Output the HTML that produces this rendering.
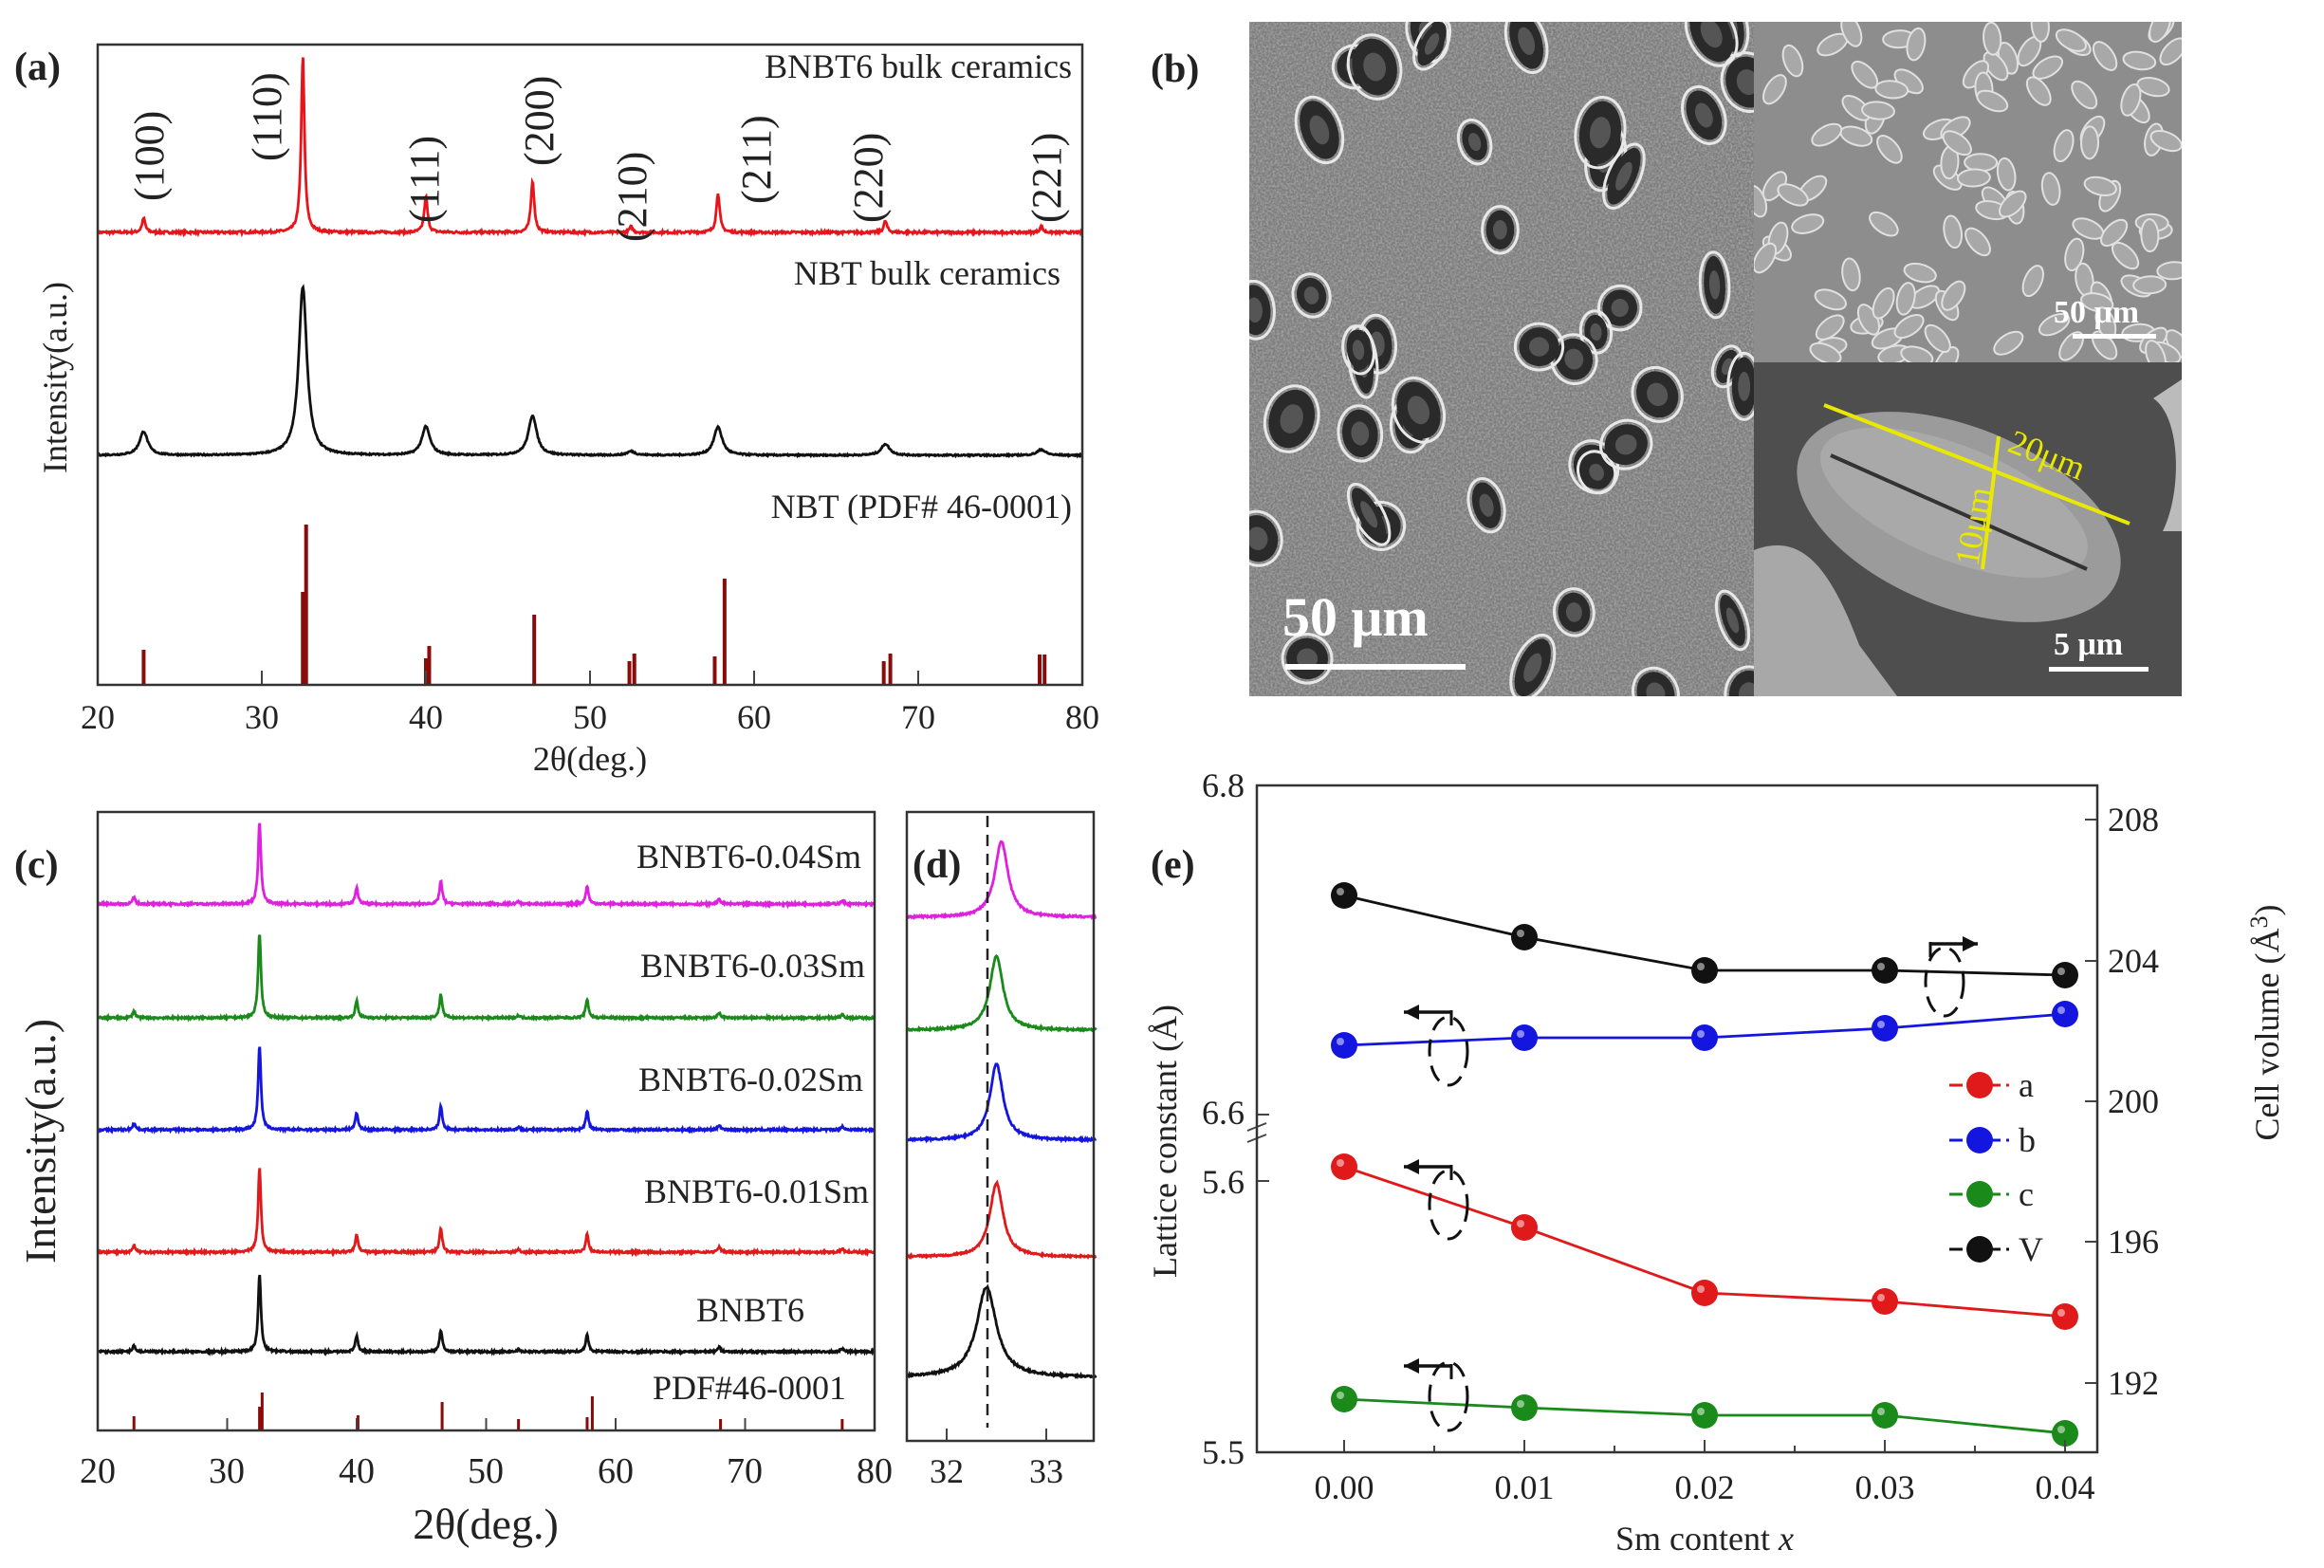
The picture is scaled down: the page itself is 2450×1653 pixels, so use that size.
<!DOCTYPE html>
<html><head><meta charset="utf-8"><style>
html,body{margin:0;padding:0;background:#fff}
svg{display:block}
text{font-family:"Liberation Serif",serif;fill:#222}
</style></head><body>
<svg id="s" width="2450" height="1653" viewBox="0 0 2450 1653" xmlns="http://www.w3.org/2000/svg">
<defs>
<filter id="noise" x="0" y="0" width="100%" height="100%">
<feTurbulence type="fractalNoise" baseFrequency="0.45" numOctaves="2" seed="3"/>
<feColorMatrix type="matrix" values="0 0 0 0 0.5  0 0 0 0 0.5  0 0 0 0 0.5  0 0 0 1.4 -0.45"/>
</filter>
<clipPath id="cm"><rect x="1317" y="23" width="532" height="711"/></clipPath>
<clipPath id="ct"><rect x="1849" y="23" width="451" height="359"/></clipPath>
<clipPath id="cb"><rect x="1849" y="382" width="451" height="352"/></clipPath>
</defs>

<!-- Panel (a) -->
<g id="pa"></g>
<rect x="103" y="47" width="1038" height="675" fill="none" stroke="#333" stroke-width="2.5"/>
<text x="15" y="84" font-size="42" font-weight="bold">(a)</text>
<g font-size="36" text-anchor="end">
<text x="1130" y="82">BNBT6 bulk ceramics</text>
<text x="1118" y="300">NBT bulk ceramics</text>
<text x="1130" y="546">NBT (PDF# 46-0001)</text>
</g>
<g font-size="44">
<text transform="translate(172,212) rotate(-90)">(100)</text>
<text transform="translate(296,170) rotate(-90)">(110)</text>
<text transform="translate(462,235) rotate(-90)">(111)</text>
<text transform="translate(583,175) rotate(-90)">(200)</text>
<text transform="translate(681,255) rotate(-90)">(210)</text>
<text transform="translate(812,215) rotate(-90)">(211)</text>
<text transform="translate(930,235) rotate(-90)">(220)</text>
<text transform="translate(1118,235) rotate(-90)">(221)</text>
</g>
<g font-size="36" text-anchor="middle">
<text x="103" y="768">20</text><text x="276" y="768">30</text><text x="449" y="768">40</text><text x="622" y="768">50</text><text x="795" y="768">60</text><text x="968" y="768">70</text><text x="1141" y="768">80</text>
<text x="622" y="812">2θ(deg.)</text>
<text transform="translate(70,398) rotate(-90)">Intensity(a.u.)</text>
</g>

<!-- Panel (b) SEM -->
<g clip-path="url(#cm)">
<rect x="1317" y="23" width="532" height="711" fill="#7c7c7c"/>
<rect x="1317" y="23" width="532" height="711" filter="url(#noise)" opacity="0.9"/>
<g id="pores"></g>
</g>
<g clip-path="url(#ct)">
<rect x="1849" y="23" width="451" height="359" fill="#8d8d8d"/>
<g id="grains"></g>
</g>
<g clip-path="url(#cb)">
<rect x="1849" y="382" width="451" height="352" fill="#4e4e4e"/>
<path d="M1849 580 C1900 560 1930 600 1960 680 L2000 734 L1849 734Z" fill="#a8a8a8"/>
<path d="M2270 420 C2300 440 2300 520 2280 560 L2300 560 L2300 400Z" fill="#bbb"/>
<ellipse cx="2065" cy="545" rx="180" ry="95" transform="rotate(22 2065 545)" fill="#9b9b9b"/>
<ellipse cx="2060" cy="530" rx="150" ry="60" transform="rotate(22 2060 530)" fill="#a9a9a9"/>
<path d="M1930 480 L2200 600" stroke="#333" stroke-width="4"/>
<line x1="1923" y1="427" x2="2245" y2="552" stroke="#e8e800" stroke-width="4"/>
<line x1="2107" y1="460" x2="2090" y2="600" stroke="#e8e800" stroke-width="4"/>
<text transform="translate(2115,475) rotate(22)" font-size="36" style="fill:#e8e800">20μm</text>
<text transform="translate(2085,598) rotate(-80)" font-size="36" style="fill:#e8e800">10μm</text>
<text x="2165" y="690" font-size="34" font-weight="bold" style="fill:#fff">5 μm</text>
<rect x="2160" y="703" width="105" height="5" fill="#fff"/>
</g>
<text x="2165" y="340" font-size="34" font-weight="bold" style="fill:#fff">50 μm</text>
<rect x="2185" y="352" width="88" height="5" fill="#fff"/>
<text x="1352" y="670" font-size="58" font-weight="bold" style="fill:#fff">50 μm</text>
<rect x="1355" y="700" width="190" height="6" fill="#fff"/>
<text x="1213" y="86" font-size="42" font-weight="bold">(b)</text>

<!-- Panel (c) -->
<g id="pc"></g>
<rect x="103" y="856" width="819" height="652" fill="none" stroke="#333" stroke-width="2.5"/>
<text x="15" y="925" font-size="42" font-weight="bold">(c)</text>
<g font-size="36" text-anchor="end">
<text x="908" y="915">BNBT6-0.04Sm</text>
<text x="912" y="1030">BNBT6-0.03Sm</text>
<text x="910" y="1150">BNBT6-0.02Sm</text>
<text x="916" y="1268">BNBT6-0.01Sm</text>
<text x="848" y="1393">BNBT6</text>
<text x="892" y="1475">PDF#46-0001</text>
</g>
<g font-size="38" text-anchor="middle">
<text x="103" y="1563">20</text><text x="239" y="1563">30</text><text x="376" y="1563">40</text><text x="512" y="1563">50</text><text x="649" y="1563">60</text><text x="785" y="1563">70</text><text x="922" y="1563">80</text>
<text x="512" y="1622" font-size="46">2θ(deg.)</text>
<text transform="translate(58,1203) rotate(-90)" font-size="46">Intensity(a.u.)</text>
</g>

<!-- Panel (d) -->
<g id="pd"></g>
<line x1="1041" y1="860" x2="1041" y2="1505" stroke="#222" stroke-width="2.5" stroke-dasharray="12,8"/>
<rect x="956" y="856" width="197" height="663" fill="none" stroke="#333" stroke-width="2.5"/>
<text x="962" y="925" font-size="42" font-weight="bold">(d)</text>
<g font-size="36" text-anchor="middle"><text x="998" y="1563">32</text><text x="1103" y="1563">33</text></g>

<!-- Panel (e) -->
<g id="pe"></g>
<rect x="1325" y="828" width="886" height="703" fill="none" stroke="#333" stroke-width="2.5"/>
<text x="1213" y="925" font-size="42" font-weight="bold">(e)</text>
<g font-size="36" text-anchor="end">
<text x="1312" y="840">6.8</text><text x="1312" y="1185">6.6</text><text x="1312" y="1258">5.6</text><text x="1312" y="1543">5.5</text>
</g>
<g font-size="36">
<text x="2222" y="876">208</text><text x="2222" y="1025">204</text><text x="2222" y="1173">200</text><text x="2222" y="1321">196</text><text x="2222" y="1470">192</text>
</g>
<g font-size="36" text-anchor="middle">
<text x="1417" y="1580">0.00</text><text x="1607" y="1580">0.01</text><text x="1797" y="1580">0.02</text><text x="1987" y="1580">0.03</text><text x="2177" y="1580">0.04</text>
<text x="1797" y="1634">Sm content <tspan font-style="italic">x</tspan></text>
<text transform="translate(1240,1203) rotate(-90)">Lattice constant (Å)</text>
<text transform="translate(2402,1078) rotate(-90)">Cell volume (Å<tspan font-size="26" dy="-12">3</tspan><tspan dy="12">)</tspan></text>
</g>
<g font-size="36">
<text x="2128" y="1156">a</text><text x="2128" y="1214">b</text><text x="2128" y="1271">c</text><text x="2128" y="1329">V</text>
</g>
</svg>
<script>
const NS="http://www.w3.org/2000/svg";
function el(p,t,a){const e=document.createElementNS(NS,t);for(const k in a)e.setAttribute(k,a[k]);document.getElementById(p).appendChild(e);return e;}
let seed=7;function rnd(){seed=(seed*16807)%2147483647;return seed/2147483647;}
const pk=[22.8,32.5,40.0,46.5,52.5,57.8,68.0,77.5];
function curve(g,x0,x1,t0,t1,base,hs,w,col,noise){
 let d="";for(let i=0;i<=1400;i++){const t=t0+(t1-t0)*i/1400;let y=0;
 pk.forEach((p,j)=>{y+=hs[j]/(1+((t-p)/w)**2);});
 y+= (rnd()-0.5)*noise;
 const X=x0+(x1-x0)*i/1400;d+=(i?"L":"M")+X.toFixed(1)+" "+(base-y).toFixed(1);}
 el(g,"path",{d:d,fill:"none",stroke:col,"stroke-width":2.8});}
// (a)
const ax=t=>103+(t-20)*1038/60;
curve("pa",103,1141,20,80,245,[15,186,38,55,6,42,12,6],0.12,"#e8141c",2.5);
curve("pa",103,1141,20,80,480,[25,178,30,42,4,30,12,6],0.3,"#111",1.5);
[[22.8,37],[32.5,98],[32.7,169],[40.0,28],[40.2,41],[46.6,74],[52.4,25],[52.7,33],[57.6,30],[58.2,112],[67.9,25],[68.3,33],[77.4,32],[77.7,32]].forEach(s=>{
 el("pa","line",{x1:ax(s[0]),x2:ax(s[0]),y1:722,y2:722-s[1],stroke:"#8b0a0a","stroke-width":4});});
[20,30,40,50,60,70,80].forEach(t=>el("pa","line",{x1:ax(t),x2:ax(t),y1:722,y2:707,stroke:"#444","stroke-width":2}));
// (c)
const cx=t=>103+(t-20)*819/60;
[[953,"#e020e0",86],[1073,"#1a8a1a",89],[1191,"#1515e0",89],[1320,"#e01a1a",89],[1425,"#111",81]].forEach(c=>{
 const h=c[2];curve("pc",103,922,20,80,c[0],[h*.08,h,h*.2,h*.28,h*.03,h*.22,h*.06,h*.04],0.13,c[1],2);});
[[22.8,15],[32.5,25],[32.7,40],[40.1,16],[46.6,30],[52.5,12],[57.8,14],[58.2,36],[68.1,12],[77.5,12]].forEach(s=>{
 el("pc","line",{x1:cx(s[0]),x2:cx(s[0]),y1:1508,y2:1508-s[1],stroke:"#8b0a0a","stroke-width":3});});
[20,30,40,50,60,70,80].forEach(t=>el("pc","line",{x1:cx(t),x2:cx(t),y1:1508,y2:1495,stroke:"#444","stroke-width":2}));
// (d)
const dx=t=>998+(t-32)*105;
[[967,"#e020e0",80,32.55,0.08],[1086,"#1a8a1a",78,32.5,0.08],[1202,"#1515e0",80,32.5,0.08],[1325,"#e01a1a",78,32.5,0.08],[1452,"#111",95,32.4,0.12]].forEach(c=>{
 let d="";for(let i=0;i<=300;i++){const t=31.6+1.9*i/300;const y=c[2]/(1+((t-c[3])/c[4])**2)+(rnd()-.5)*2;
 d+=(i?"L":"M")+dx(t).toFixed(1)+" "+(c[0]-y).toFixed(1);}
 el("pd","path",{d:d,fill:"none",stroke:c[1],"stroke-width":2.8});});
[32,33].forEach(t=>el("pd","line",{x1:dx(t),x2:dx(t),y1:1519,y2:1506,stroke:"#444","stroke-width":2}));
// (e)
const ex=[1417,1607,1797,1987,2177];
const ser=[["#111",[944,988,1023,1023,1028]],["#1515e0",[1102,1094,1094,1084,1069]],["#e01a1a",[1230,1294,1363,1372,1388]],["#1a8a1a",[1475,1484,1492,1492,1511]]];
ser.forEach(s=>{el("pe","polyline",{points:ex.map((x,i)=>x+","+s[1][i]).join(" "),fill:"none",stroke:s[0],"stroke-width":2.8});});
ser.forEach(s=>{ex.forEach((x,i)=>{el("pe","circle",{cx:x,cy:s[1][i],r:14,fill:s[0]});el("pe","circle",{cx:x-4,cy:s[1][i]-4,r:4,fill:"#fff",opacity:.5});});});
[["#e01a1a",1144],["#1515e0",1202],["#1a8a1a",1259],["#111",1317]].forEach(l=>{
 el("pe","line",{x1:2055,x2:2118,y1:l[1],y2:l[1],stroke:l[0],"stroke-width":3,"stroke-dasharray":"14,6"});
 el("pe","circle",{cx:2087,cy:l[1],r:14,fill:l[0]});});
[1417,1607,1797,1987,2177].forEach(x=>el("pe","line",{x1:x,x2:x,y1:1531,y2:1518,stroke:"#444","stroke-width":2}));
[1512,1702,1892,2082].forEach(x=>el("pe","line",{x1:x,x2:x,y1:1531,y2:1524,stroke:"#444","stroke-width":2}));
[864,1013,1161,1309,1458].forEach(y=>el("pe","line",{x1:2211,x2:2198,y1:y,y2:y,stroke:"#444","stroke-width":2}));
[828,1175,1245,1531].forEach(y=>el("pe","line",{x1:1325,x2:1338,y1:y,y2:y,stroke:"#444","stroke-width":2}));
el("pe","rect",{x:1318,y:1190,width:14,height:14,fill:"#fff"});
el("pe","path",{d:"M1315 1192 L1335 1184 M1315 1204 L1335 1196",stroke:"#444","stroke-width":2,fill:"none"});
function arr(x,y,dir){el("pe","line",{x1:x,x2:x+50,y1:y,y2:y,stroke:"#111","stroke-width":3.5});
 const hx=dir<0?x:x+50;
 el("pe","polygon",{points:`${hx},${y} ${hx-dir*16},${y-8} ${hx-dir*16},${y+8}`,fill:"#111"});
 el("pe","line",{x1:dir<0?x+50:x,x2:dir<0?x+50:x,y1:y-2,y2:y+14,stroke:"#111","stroke-width":3});}
function ell(x,y){el("pe","ellipse",{cx:x,cy:y,rx:20,ry:36,fill:"none",stroke:"#111","stroke-width":3,"stroke-dasharray":"18,10"});}
arr(1480,1067,-1);ell(1527,1108);
arr(1480,1230,-1);ell(1527,1270);
arr(1480,1440,-1);ell(1527,1472);
arr(2035,995,1);ell(2050,1035);
// SEM pores
for(let i=0;i<45;i++){const x=1317+rnd()*532,y=23+rnd()*711,rx=10+rnd()*14,ry=18+rnd()*16,a=rnd()*60-30;
 el("pores","ellipse",{cx:x,cy:y,rx:rx+4,ry:ry+4,transform:`rotate(${a} ${x} ${y})`,fill:"none",stroke:"#e8e8e8","stroke-width":3});
 el("pores","ellipse",{cx:x,cy:y,rx:rx,ry:ry,transform:`rotate(${a} ${x} ${y})`,fill:"#2a2a2a"});
 el("pores","ellipse",{cx:x,cy:y,rx:rx*.5,ry:ry*.5,transform:`rotate(${a} ${x} ${y})`,fill:"#555"});}
for(let i=0;i<110;i++){const x=1849+rnd()*451,y=23+rnd()*359,a=rnd()*180;
 el("grains","ellipse",{cx:x,cy:y,rx:9,ry:17,transform:`rotate(${a} ${x} ${y})`,fill:"#a8a8a8",stroke:"#e0e0e0","stroke-width":2});}
</script>
</body></html>
